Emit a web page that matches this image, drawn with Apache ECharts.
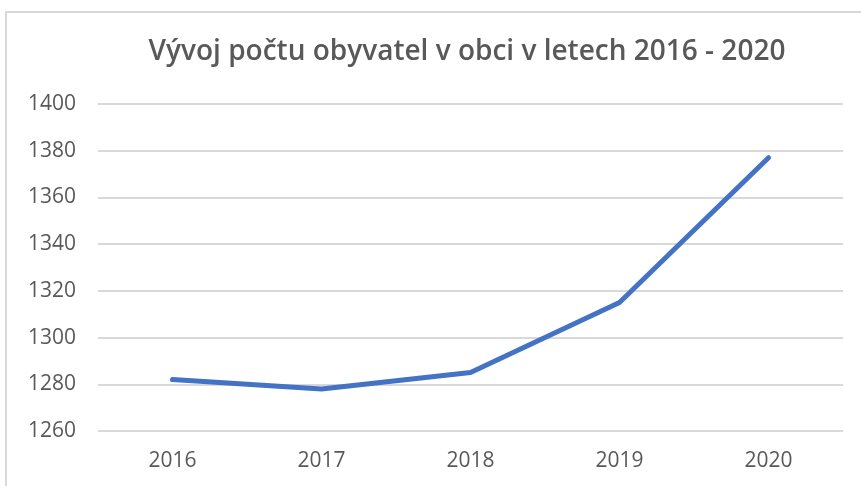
<!DOCTYPE html>
<html>
<head>
<meta charset="utf-8">
<script src="https://cdn.jsdelivr.net/npm/echarts@6/dist/echarts.min.js"></script>
<style>
  html, body { margin: 0; padding: 0; background: #fff; }
  #chart { width: 861px; height: 486px; }
</style>
</head>
<body>
<div id="chart"></div>
<script>
// data
const years = ["2016", "2017", "2018", "2019", "2020"];
const population = [1282, 1278, 1285, 1315, 1377];
const chartTitle = "Vývoj počtu obyvatel v obci v letech 2016 - 2020";

let myChart = echarts.init(document.getElementById("chart"));
myChart.setOption({
  animation: false,
  textStyle: { fontFamily: "Open Sans" },
  title: {
    text: chartTitle,
    left: 462,
    top: 33,
    textAlign: "center",
    textStyle: {
      color: "#595959",
      fontSize: 28,
      fontWeight: 600,
      fontFamily: "Open Sans"
    }
  },
  graphic: [
    {
      type: "rect",
      shape: { x: 6, y: 12, width: 900, height: 500 },
      style: { fill: "none", stroke: "#d9d9d9", lineWidth: 2 }
    }
  ],
  grid: {
    left: 98,
    right: 18,
    top: 104,
    bottom: 55,
    containLabel: false
  },
  xAxis: {
    type: "category",
    boundaryGap: true,
    data: years,
    axisLine: { show: false },
    axisTick: { show: false },
    axisLabel: {
      color: "#595959",
      fontSize: 21,
      margin: 20
    }
  },
  yAxis: {
    type: "value",
    min: 1260,
    max: 1400,
    interval: 20,
    axisLine: { show: false },
    axisTick: { show: false },
    splitLine: {
      lineStyle: { color: "#d9d9d9", width: 2 }
    },
    axisLabel: {
      color: "#595959",
      fontSize: 21,
      margin: 22,
      formatter: function (v) { return String(v); }
    }
  },
  series: [
    {
      type: "line",
      data: population,
      showSymbol: false,
      lineStyle: {
        color: "#4472C4",
        width: 5,
        cap: "round",
        join: "round"
      }
    }
  ]
});
</script>
</body>
</html>
